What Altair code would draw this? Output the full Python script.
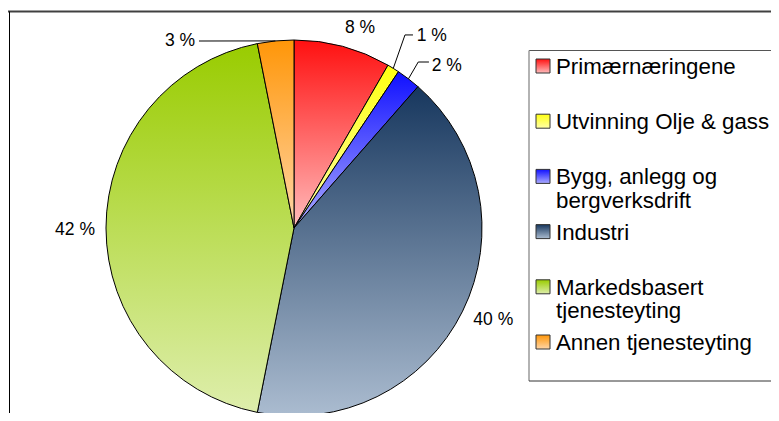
import math
import altair as alt
import pandas as pd

# ---------------- data ----------------
categories = [
    "Primærnæringene",
    "Utvinning Olje & gass",
    "Bygg, anlegg og bergverksdrift",
    "Industri",
    "Markedsbasert tjenesteyting",
    "Annen tjenesteyting",
]
shares = [8, 1, 2, 40, 42, 3]
pct_labels = ["8 %", "1 %", "2 %", "40 %", "42 %", "3 %"]
legend_labels = [
    "Primærnæringene",
    "Utvinning Olje & gass",
    "Bygg, anlegg og\nbergverksdrift",
    "Industri",
    "Markedsbasert\ntjenesteyting",
    "Annen tjenesteyting",
]

# ---------------- styles / layout ----------------
top_colors = ["#FF1010", "#FFFF10", "#1010FF", "#17375E", "#99CC00", "#FF9608"]
bottom_colors = ["#FFBCBC", "#FFFFA8", "#ABABFF", "#ABBCD0", "#DEEEAC", "#FFD6A8"]

W, H = 763, 405
CX, CY, R = 286, 220, 188
FONT = "Liberation Sans"
# label centre offset from the rim point at the slice's mid-angle (px)
label_offsets = [(17.3, -18.4), (38.5, -32.4), (38.3, -12.85), (30.7, 8.5), (-31.0, 1.5), (-95.6, 0.1)]
# leader line points relative to label centre (after the rim point)
leader_paths = {1: [(-26.8, -1), (-18.8, -1)], 2: [(-28.5, -4), (-17.8, -4)], 5: [(19, 0)]}
LEG_Y0, LEG_STEP = 58, 55.2
LEG_SYM_X, LEG_SYM_SIZE, LEG_TEXT_X = 528, 14, 548

df = pd.DataFrame({
    "idx": list(range(len(categories))),
    "category": categories,
    "share": shares,
    "label": pct_labels,
    "legend": legend_labels,
})
df["ldx"] = [o[0] for o in label_offsets]
df["ldy"] = [o[1] for o in label_offsets]

total = sum(shares)
cum = 0.0
leader_rows = []
for i, s in enumerate(shares):
    mid = (cum + s / 2) / total
    cum += s
    if i in leader_paths:
        a = 2 * math.pi * mid
        rx = CX + R * math.sin(a)
        ry = CY - R * math.cos(a)
        lx, ly = rx + label_offsets[i][0], ry + label_offsets[i][1]
        pts = [(rx, ry)] + [(lx + dx, ly + dy) for dx, dy in leader_paths[i]]
        for k, (px, py) in enumerate(pts):
            leader_rows.append({"idx": i, "k": k, "x": px, "y": py})
leaders_df = pd.DataFrame(leader_rows)


def grad(top, bot):
    return {"gradient": "linear", "x1": 0, "y1": 0, "x2": 0, "y2": 1,
            "stops": [{"offset": 0, "color": top}, {"offset": 1, "color": bot}]}


n = len(categories)
fill_enc = alt.value(
    grad(top_colors[n - 1], bottom_colors[n - 1]),
    condition=[{"test": f"datum.idx == {i}", "value": grad(top_colors[i], bottom_colors[i])}
               for i in range(n - 1)],
)

xs = alt.Scale(domain=[0, W], nice=False, zero=False)
ys = alt.Scale(domain=[0, H], nice=False, zero=False, reverse=True)

base = alt.Chart(df).transform_window(
    cum="sum(share)", sort=[alt.SortField("idx")], frame=[None, 0]
).transform_joinaggregate(total="sum(share)").transform_calculate(
    t0="(datum.cum - datum.share) / datum.total",
    t1="datum.cum / datum.total",
    mid="(datum.cum - datum.share / 2) / datum.total",
    cx=str(CX), cy=str(CY),
)

pie = base.mark_arc(radius=R, stroke="black", strokeWidth=1).encode(
    theta=alt.Theta("t0:Q", scale=alt.Scale(domain=[0, 1], range=[0, 2 * math.pi]), stack=None),
    theta2="t1:Q",
    x=alt.X("cx:Q", scale=xs, axis=None, stack=None),
    y=alt.Y("cy:Q", scale=ys, axis=None, stack=None),
    fill=fill_enc,
)

labels = base.transform_calculate(
    lx=f"{CX} + {R} * sin(2 * PI * datum.mid) + datum.ldx",
    ly=f"{CY} - {R} * cos(2 * PI * datum.mid) + datum.ldy",
).mark_text(font=FONT, fontSize=17.5, align="center", baseline="middle", color="black").encode(
    x=alt.X("lx:Q", scale=xs, axis=None),
    y=alt.Y("ly:Q", scale=ys, axis=None),
    text="label:N",
)

leaders = alt.Chart(leaders_df).mark_line(color="black", strokeWidth=1).encode(
    x=alt.X("x:Q", scale=xs, axis=None),
    y=alt.Y("y:Q", scale=ys, axis=None),
    detail="idx:N",
    order="k:Q",
)

leg = alt.Chart(df).transform_calculate(
    s0=f"{LEG_Y0} + {LEG_STEP} * datum.idx - {LEG_SYM_SIZE / 2}",
    s1=f"{LEG_Y0} + {LEG_STEP} * datum.idx + {LEG_SYM_SIZE / 2}",
    ty=f"{LEG_Y0} + {LEG_STEP} * datum.idx + 8",
    sx0=str(LEG_SYM_X), sx1=str(LEG_SYM_X + LEG_SYM_SIZE), tx=str(LEG_TEXT_X),
)
leg_sym = leg.mark_rect(stroke="#333333", strokeWidth=1).encode(
    x=alt.X("sx0:Q", scale=xs, axis=None), x2="sx1:Q",
    y=alt.Y("s0:Q", scale=ys, axis=None), y2="s1:Q",
    fill=fill_enc,
)
leg_text = leg.mark_text(font=FONT, fontSize=22.3, align="left", baseline="alphabetic",
                         lineBreak="\n", lineHeight=23.5, color="black").encode(
    x=alt.X("tx:Q", scale=xs, axis=None),
    y=alt.Y("ty:Q", scale=ys, axis=None),
    text="legend:N",
)

# decorations: outer chart frame and legend box (edges cut by the window)
frame_top = alt.Chart(df.head(1)).mark_rule(color="#404040", strokeWidth=2).encode(
    x=alt.value(0), x2=alt.value(W), y=alt.value(3.5))
frame_left = alt.Chart(df.head(1)).mark_rule(color="#000000", strokeWidth=1).encode(
    x=alt.value(1.5), y=alt.value(3.5), y2=alt.value(H))
box_top = alt.Chart(df.head(1)).mark_rule(color="#555555", strokeWidth=1).encode(
    x=alt.value(521), x2=alt.value(W), y=alt.value(42.5))
box_left = alt.Chart(df.head(1)).mark_rule(color="#9a9a9a", strokeWidth=1.5).encode(
    x=alt.value(521), y=alt.value(42.5), y2=alt.value(373))
box_bottom = alt.Chart(df.head(1)).mark_rule(color="#333333", strokeWidth=1).encode(
    x=alt.value(521), x2=alt.value(W), y=alt.value(373))

chart = alt.layer(
    frame_top, frame_left, box_top, box_left, box_bottom,
    pie, leaders, labels, leg_sym, leg_text,
).properties(
    width=W, height=H, padding=0, autosize=alt.AutoSizeParams(type="none"),
    background="white",
).configure_view(stroke=None)

chart.save("out.html", embed_options={"renderer": "svg", "actions": False})
